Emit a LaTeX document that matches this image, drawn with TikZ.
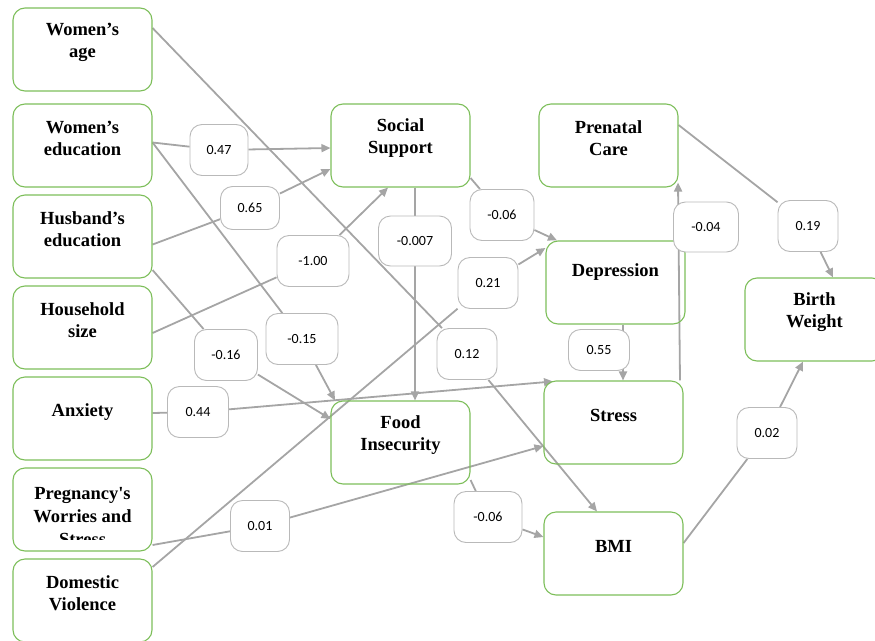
\documentclass[tikz,border=0pt]{standalone}
\usepackage{fontspec}
\setmainfont{Liberation Serif}
\newfontfamily\labfont{Carlito}
\usetikzlibrary{arrows.meta,calc}
\pgfdeclarelayer{edges}
\pgfsetlayers{edges,main}
\definecolor{boxgreen}{RGB}{125,190,90}
\definecolor{edgegray}{RGB}{165,165,165}
\definecolor{labgray}{RGB}{185,185,185}
\begin{document}
\begin{tikzpicture}[x=1pt,y=-1pt,
 varbox/.style={draw=boxgreen, line width=1.1pt, rounded corners=12pt, minimum width=139pt, minimum height=83pt, inner sep=0pt},
 vartext/.style={font=\fontsize{18.5}{22}\selectfont\bfseries, align=center, inner sep=0pt},
 coef/.style={draw=labgray, line width=0.9pt, fill=white, rounded corners=12pt, minimum height=51pt, inner sep=0pt, font=\labfont\fontsize{14}{16}\selectfont},
 link/.style={draw=edgegray, line width=1.8pt, -{Triangle[length=9pt,width=8pt]}}]

\useasboundingbox (0,0) rectangle (875,640);

% variable boxes
\node[varbox] (wa) at (82.5,49.5) {};
\node[varbox] (we) at (82.5,145.5) {};
\node[varbox] (he) at (82.5,236.5) {};
\node[varbox] (hs) at (82.5,327.5) {};
\node[varbox] (ax) at (82.5,418.5) {};
\node[varbox] (pw) at (82.5,509.5) {};
\node[varbox] (dv) at (82.5,600.5) {};
\node[varbox] (ss) at (400.5,145.5) {};
\node[varbox] (fi) at (400.5,442.5) {};
\node[varbox] (pc) at (608.5,145.5) {};
\node[varbox] (dp) at (615.5,282.5) {};
\node[varbox] (st) at (613.5,422.5) {};
\node[varbox] (bmi) at (613.5,553.5) {};
\node[varbox] (bw) at (814.5,319.5) {};

\node[vartext] (wat) at ([yshift=7pt]wa.center) {Women’s\\age};
\node[vartext] (wet) at ([yshift=7pt]we.center) {Women’s\\education};
\node[vartext] (het) at ([yshift=7pt]he.center) {Husband’s\\education};
\node[vartext] (hst) at ([yshift=7pt]hs.center) {Household\\size};
\node[vartext] (axt) at ([yshift=6.5pt]ax.center) {Anxiety};
\begin{scope}
\clip (13,468) rectangle (152,539);
\node[vartext, font=\fontsize{18.5}{23}\selectfont\bfseries] (pwt) at ([yshift=-7pt]pw.center) {Pregnancy\textquotesingle s\\Worries and\\Stress};
\end{scope}
\node[vartext] (dvt) at ([yshift=7pt]dv.center) {Domestic\\Violence};
\node[vartext] (sst) at ([yshift=7.5pt]ss.center) {Social\\Support};
\node[vartext] (fit) at ([yshift=7.5pt]fi.center) {Food\\Insecurity};
\node[vartext] (pct) at ([yshift=7.5pt]pc.center) {Prenatal\\Care};
\node[vartext] (dpt) at ([yshift=10pt]dp.center) {Depression};
\node[vartext] (stt) at ([yshift=7.5pt]st.center) {Stress};
\node[vartext] (bmit) at ([yshift=7.5pt]bmi.center) {BMI};
\node[vartext] (bwt) at ([yshift=7.5pt]bw.center) {Birth\\Weight};

% coefficient labels
\node[coef, minimum width=58pt] (c1) at (219,150) {0.47};
\node[coef, minimum width=59pt, minimum height=43pt] (c2) at (250,208) {0.65};
\node[coef, minimum width=72pt] (c3) at (313,261) {-1.00};
\node[coef, minimum width=73pt, minimum height=50pt] (c4) at (415,241) {-0.007};
\node[coef, minimum width=64pt] (c5) at (502,215) {-0.06};
\node[coef, minimum width=60pt] (c6) at (488,283) {0.21};
\node[coef, minimum width=60pt] (c7) at (467,354) {0.12};
\node[coef, minimum width=72pt] (c8) at (302,339) {-0.15};
\node[coef, minimum width=63pt] (c9) at (226,355) {-0.16};
\node[coef, minimum width=61pt] (c10) at (198,412) {0.44};
\node[coef, minimum width=59pt] (c11) at (260,526) {0.01};
\node[coef, minimum width=68pt] (c12) at (488,517) {-0.06};
\node[coef, minimum width=65pt, minimum height=50pt] (c13) at (706,227) {-0.04};
\node[coef, minimum width=60pt] (c14) at (808,226) {0.19};
\node[coef, minimum width=61pt, minimum height=41pt] (c15) at (599,350) {0.55};
\node[coef, minimum width=60pt] (c16) at (767,433) {0.02};

\begin{pgfonlayer}{edges}
\draw[link] ([yshift=21.5pt]wa.east) -- (c7) -- ([xshift=-16.5pt]bmi.north);
\draw[link] ([yshift=3pt]we.east) -- (c1) -- ([yshift=-2.5pt]ss.west);
\draw[link] ([yshift=3pt]we.east) -- (c8) -- ([xshift=-65.5pt]fi.north);
\draw[link] ([yshift=-8pt]he.east) -- (c2) -- ([yshift=-23.5pt]ss.west);
\draw[link] ([yshift=-33.5pt]he.east) -- (c9) -- ([yshift=23.5pt]fi.west);
\draw[link] ([yshift=-5.5pt]hs.east) -- (c3) -- ([xshift=-12.5pt]ss.south);
\draw[link] ([xshift=14.5pt]ss.south) -- (c4) -- ([xshift=14.5pt]fi.north);
\draw[link] ([yshift=-32.5pt]ss.east) -- (c5) -- ([xshift=-58.5pt]dp.north);
\draw[link] ([yshift=33.5pt]dv.east) -- (c6) -- ([yshift=34.5pt]dp.west);
\draw[link] ([yshift=5.5pt]ax.east) -- (c10) -- ([xshift=-60.5pt,yshift=-1pt]st.north);
\draw[link] ([yshift=-35.5pt]pw.east) -- (c11) -- ([yshift=-23.5pt]st.west);
\draw[link] ([yshift=-37.5pt]fi.east) -- (c12) -- ([yshift=16.5pt]bmi.west);
\draw[link] ([xshift=7.5pt]dp.south) -- ([xshift=9.5pt]st.north);
\draw[link] ([xshift=66.5pt]st.north) -- ([xshift=69.5pt,yshift=5pt]pc.south);
\draw[link] ([yshift=20.5pt]pc.east) -- (c14) -- ([xshift=18.5pt]bw.north);
\draw[link] ([yshift=10.5pt]bmi.east) -- (c16) -- ([xshift=-11.5pt]bw.south);
\end{pgfonlayer}
\end{tikzpicture}
\end{document}
